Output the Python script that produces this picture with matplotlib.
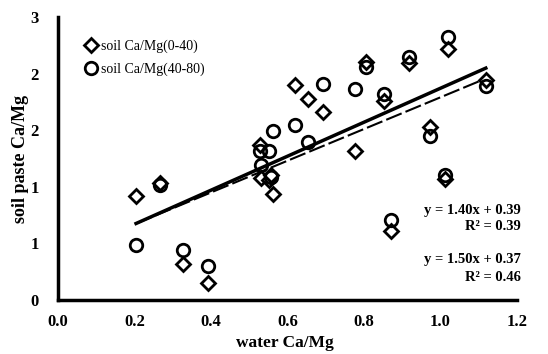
import numpy as np
import matplotlib
matplotlib.use("Agg")
import matplotlib.pyplot as plt
from matplotlib.ticker import FuncFormatter, MultipleLocator

plt.rcParams['font.family'] = ['Liberation Serif', 'DejaVu Serif']

# water Ca/Mg (x) and soil paste Ca/Mg at two depths
water = [0.204, 0.267, 0.328, 0.391, 0.527, 0.530, 0.553, 0.561, 0.558, 0.619,
         0.655, 0.692, 0.778, 0.805, 0.852, 0.870, 0.917, 0.972, 1.012, 1.020, 1.119]
soil_0_40 = [0.92, 1.03, 0.32, 0.15, 1.37, 1.08, 1.06, 0.94, 1.10, 1.90,
             1.78, 1.66, 1.32, 2.10, 1.76, 0.61, 2.09, 1.53, 1.07, 2.22, 1.94]
soil_40_80 = [0.49, 1.02, 0.44, 0.30, 1.32, 1.19, 1.32, 1.49, 1.09, 1.55,
              1.40, 1.91, 1.86, 2.06, 1.82, 0.71, 2.15, 1.45, 1.10, 2.32, 1.89]

# trend lines (slope, intercept, r2)
fit_0_40 = (1.40, 0.39, 0.39)
fit_40_80 = (1.50, 0.37, 0.46)

fig = plt.figure(figsize=(5.48, 3.54), dpi=100)
ax = fig.add_axes([0.106, 0.1525, 0.837, 0.7995])

ax.plot(water, soil_0_40, linestyle='none', marker='D', ms=7, mfc='white',
        mec='black', mew=2, label='soil Ca/Mg(0-40)', zorder=3)
ax.plot(water, soil_40_80, linestyle='none', marker='o', ms=9, mfc='none',
        mec='black', mew=2, label='soil Ca/Mg(40-80)', zorder=3)

xs = np.array([min(water), max(water)])
ax.plot(xs, fit_0_40[0] * xs + fit_0_40[1], color='black', lw=1.5,
        linestyle=(0, (8, 2)), zorder=2)
ax.plot(xs, fit_40_80[0] * xs + fit_40_80[1], color='black', lw=2.5, zorder=2)

ax.set_xlim(0, 1.2)
ax.set_ylim(0, 2.5)
ax.xaxis.set_major_locator(MultipleLocator(0.2))
ax.yaxis.set_major_locator(MultipleLocator(0.5))
ax.xaxis.set_major_formatter(FuncFormatter(lambda v, p: f"{v:.1f}"))
ax.yaxis.set_major_formatter(FuncFormatter(lambda v, p: str(int(np.floor(v + 0.5 + 1e-9)))))
ax.tick_params(axis='x', length=0, labelsize=12, pad=10)
ax.tick_params(axis='y', length=0, labelsize=12, pad=14)
for lab in ax.get_xticklabels() + ax.get_yticklabels():
    lab.set_fontweight('bold')

for s in ['top', 'right']:
    ax.spines[s].set_visible(False)
for s in ['left', 'bottom']:
    ax.spines[s].set_linewidth(2.5)

ax.set_xlabel('water Ca/Mg', fontsize=12.5, fontweight='bold', va='center')
ax.xaxis.set_label_coords(0.495, -0.152)
ax.set_ylabel('soil paste Ca/Mg', fontsize=13, fontweight='bold', va='center')
ax.yaxis.set_label_coords(-0.081, 0.5)

ax.text(1.085, 0.795, f"y = {fit_0_40[0]:.2f}x + {fit_0_40[1]:.2f}", ha='center',
        va='center', fontsize=10.5, fontweight='bold', clip_on=False)
ax.text(1.138, 0.645, f"R² = {fit_0_40[2]:.2f}", ha='center',
        va='center', fontsize=10.5, fontweight='bold', clip_on=False)
ax.text(1.085, 0.36, f"y = {fit_40_80[0]:.2f}x + {fit_40_80[1]:.2f}", ha='center',
        va='center', fontsize=10.5, fontweight='bold', clip_on=False)
ax.text(1.138, 0.20, f"R² = {fit_40_80[2]:.2f}", ha='center',
        va='center', fontsize=10.5, fontweight='bold', clip_on=False)

ax.legend(loc='upper left', bbox_to_anchor=(0.03, 0.965), frameon=False,
          fontsize=10, handletextpad=0.2, labelspacing=0.7, handlelength=1)

fig.savefig('out.png', dpi=100)
